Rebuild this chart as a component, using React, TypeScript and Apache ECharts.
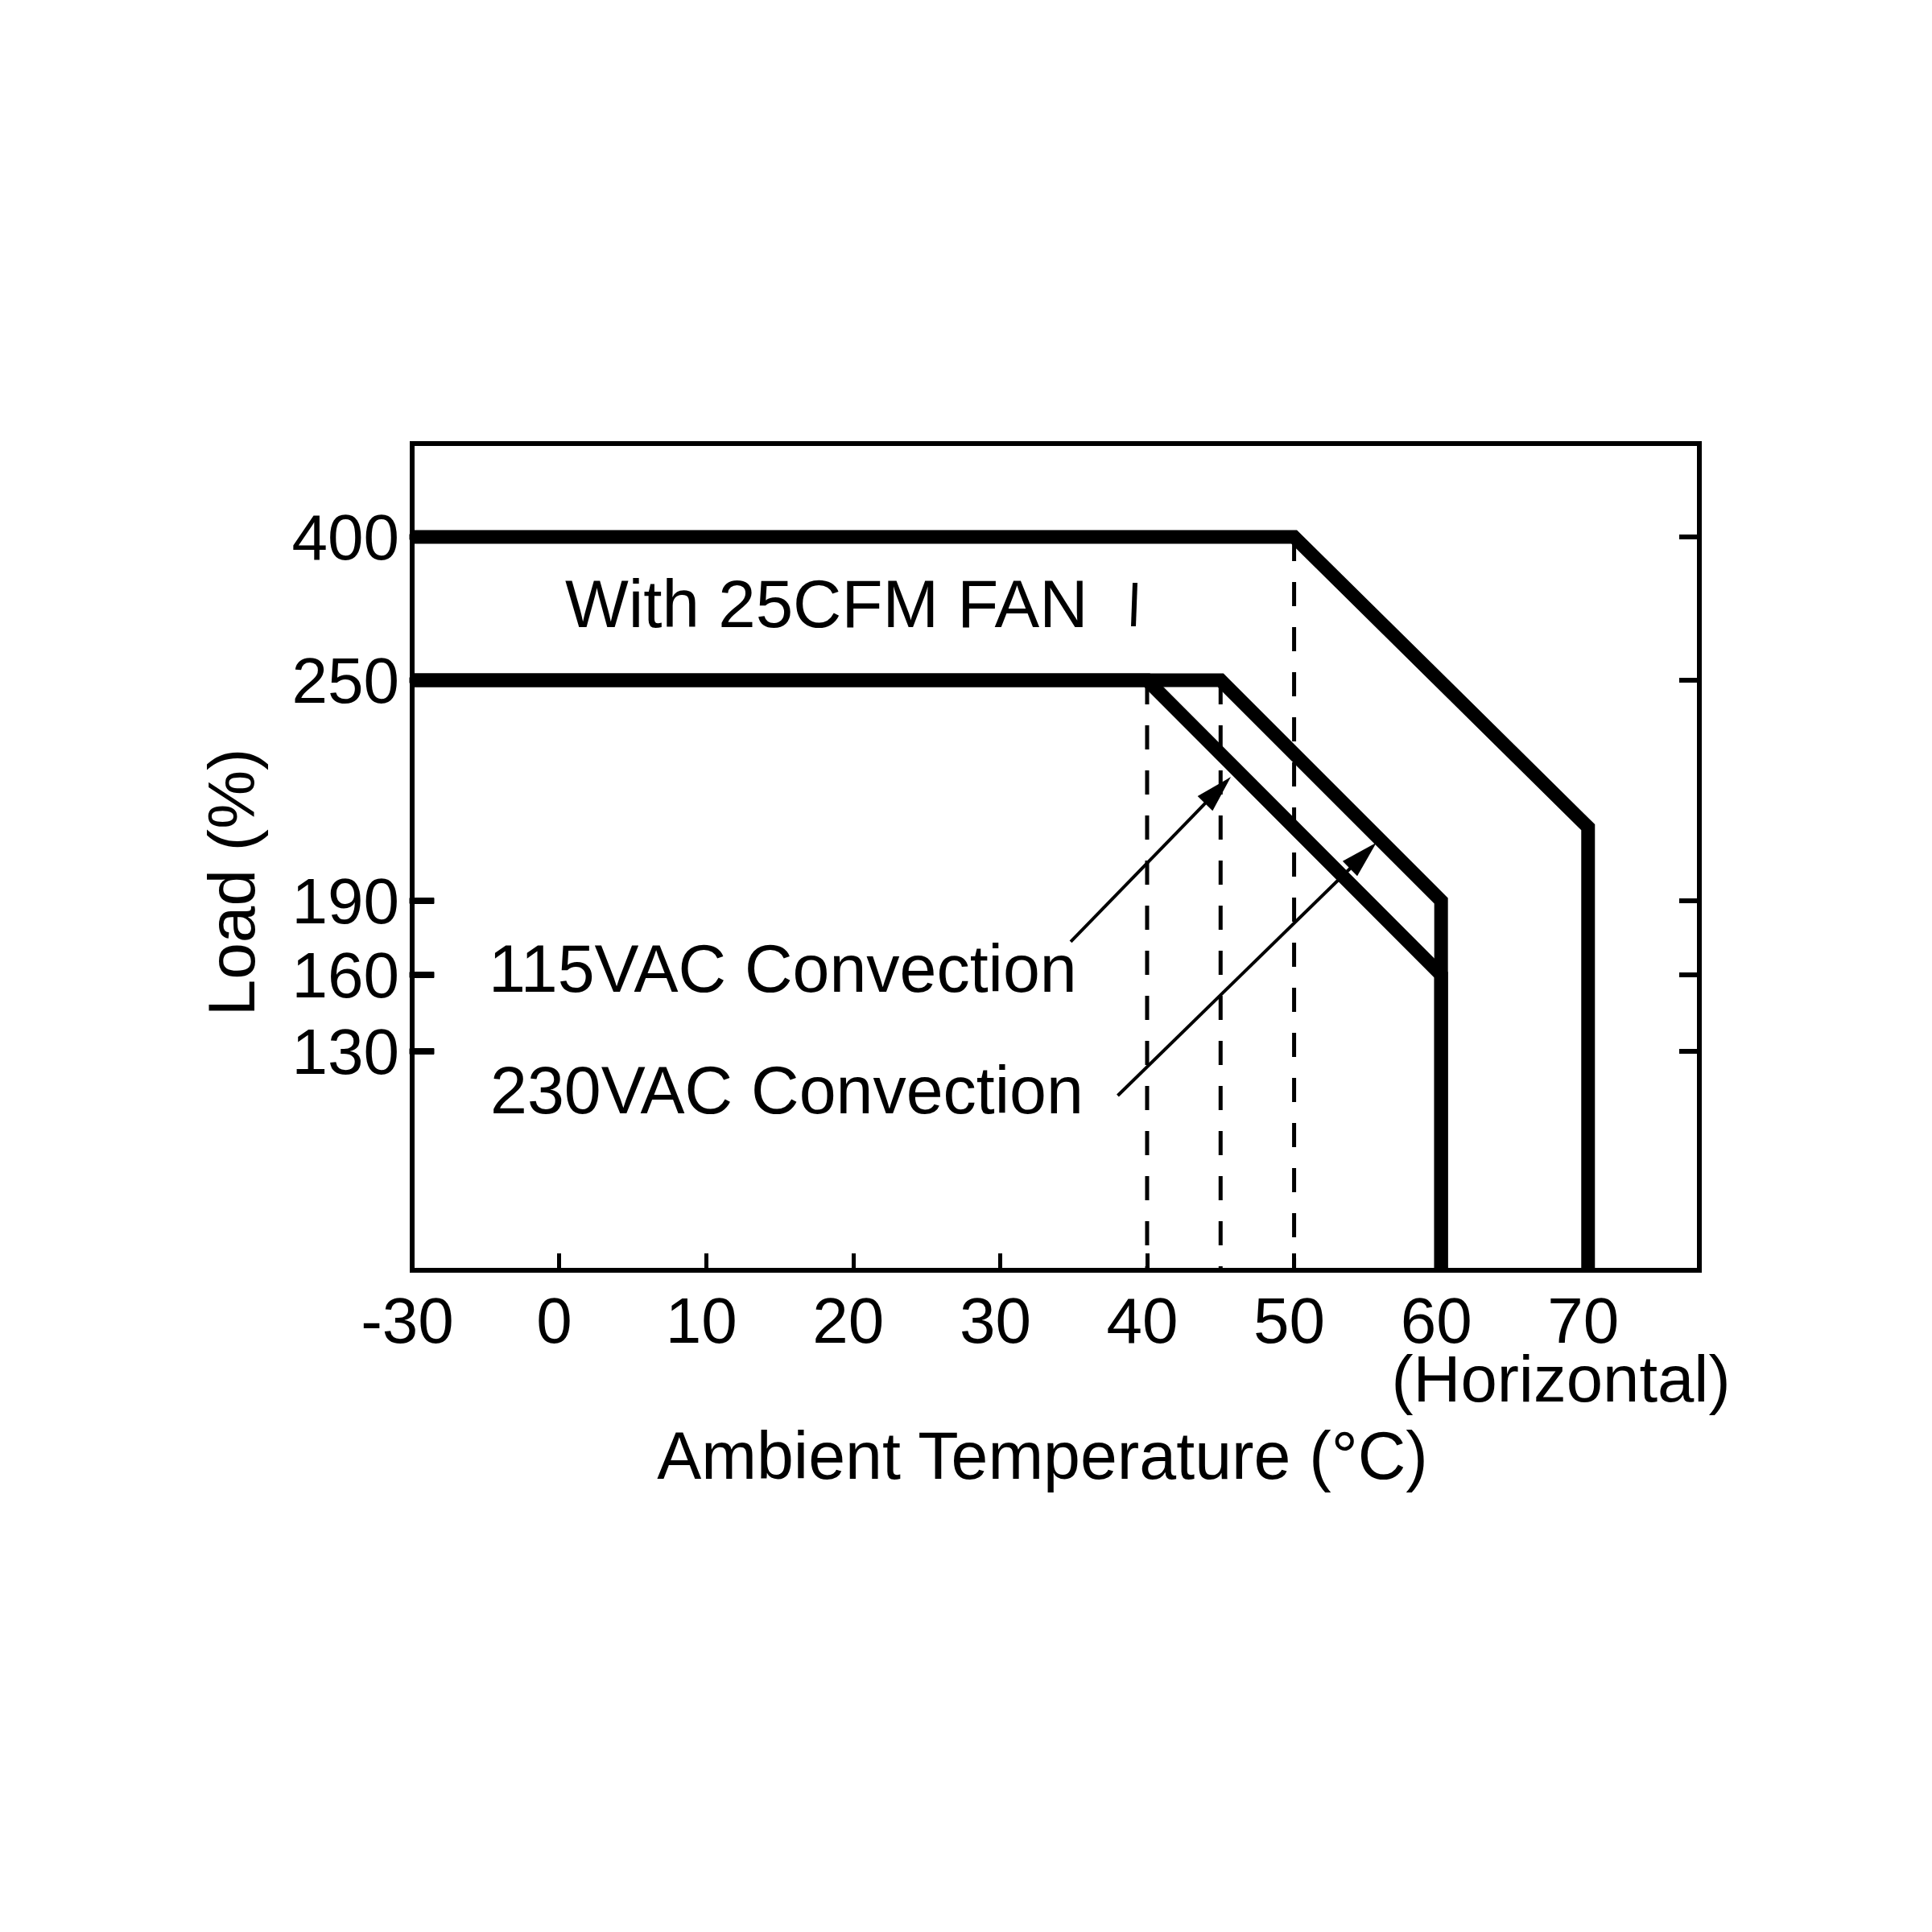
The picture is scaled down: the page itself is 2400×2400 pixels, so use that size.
import React, { useEffect, useRef } from 'react';
import * as echarts from 'echarts';

const FONT = '"Liberation Sans", Arial, Helvetica, sans-serif';

// ---- Data (temperature in °C, load in %) ----
const FAN_TEMPS = [-30, 50, 70, 70];
const FAN_LOADS = [400, 400, 210, 0];
const AC115_TEMPS = [-30, 40, 60, 60];
const AC115_LOADS = [250, 250, 160, 0];
const AC230_TEMPS = [-30, 45, 60, 60];
const AC230_LOADS = [250, 250, 190, 0];
const GUIDE_TEMPS = [40, 45, 50];
const GUIDE_TOP_LOADS = [250, 250, 400];

const X_TICKS = [0, 10, 20, 30, 40, 50, 60, 70];
const X_LABELS = [-30, 0, 10, 20, 30, 40, 50, 60, 70];
const Y_LABELS = [130, 160, 190, 250, 400];

// Non-linear (broken) load scale used by the original drawing
const Y_SCALE_LOADS = [0, 130, 160, 190, 250, 400];
const Y_SCALE_UNITS = [0, 272, 367, 459, 733, 911];
const Y_SCALE_MAX = 1027;
// Temperature scale: the -30..0 span is compressed to the width of 10 °C
const X_SCALE_MAX_TEMP = 77.57;

// Annotation arrows [temp, load]
const ARROW_115_FROM = [34.8, 173.4];
const ARROW_115_TO = [45.7, 223.7];
const ARROW_230_FROM = [38.0, 103.7];
const ARROW_230_TO = [55.6, 205.8];

function xDisp(t: number) {
  return t < 0 ? (t + 30) / 3 : t + 10;
}
function yPos(load: number) {
  const L = Y_SCALE_LOADS, U = Y_SCALE_UNITS;
  for (let i = 1; i < L.length; i++) {
    if (load <= L[i] || i === L.length - 1) {
      return U[i - 1] + ((load - L[i - 1]) / (L[i] - L[i - 1])) * (U[i] - U[i - 1]);
    }
  }
  return 0;
}
function pts(temps: number[], loads: number[]) {
  return temps.map((t, i) => [xDisp(t), yPos(loads[i])]);
}

export default function App() {
  const ref = useRef<HTMLDivElement>(null);
  useEffect(() => {
    if (!ref.current) return;
    const chart = echarts.init(ref.current, undefined, { renderer: 'svg' });
    const thick = { color: '#000', width: 17, join: 'miter', cap: 'butt', miterLimit: 10 };
    const series: any[] = [];
    GUIDE_TEMPS.forEach((t, i) => {
      series.push({
        type: 'line',
        data: pts([t, t], [GUIDE_TOP_LOADS[i], 0]),
        symbol: 'none',
        silent: true,
        z: 2,
        lineStyle: { color: '#000', width: 5, type: [30, 26] },
      });
    });
    [
      [FAN_TEMPS, FAN_LOADS],
      [AC230_TEMPS, AC230_LOADS],
      [AC115_TEMPS, AC115_LOADS],
    ].forEach(([t, l]) => {
      series.push({
        type: 'line',
        data: pts(t as number[], l as number[]),
        symbol: 'none',
        silent: true,
        z: 3,
        lineStyle: thick,
      });
    });

    const labelStyle = { fontSize: 80, color: '#000', fontFamily: FONT, lineHeight: 66 };
    const yTickVals = Y_LABELS.map(yPos);
    const option: any = {
      animation: false,
      backgroundColor: '#fff',
      grid: {
        left: 512,
        top: 551,
        width: 1599,
        height: 1027,
        show: true,
        borderColor: '#000',
        borderWidth: 6,
        backgroundColor: 'transparent',
      },
      xAxis: {
        type: 'value',
        min: xDisp(-30),
        max: xDisp(X_SCALE_MAX_TEMP),
        axisLine: { show: false },
        splitLine: { show: false },
        axisTick: {
          show: true,
          inside: true,
          length: 21,
          lineStyle: { color: '#000', width: 5 },
          customValues: X_TICKS.map(xDisp),
        },
        axisLabel: {
          ...labelStyle,
          margin: 29,
          padding: [0, 12, 0, 0],
          customValues: X_LABELS.map(xDisp),
          formatter: (v: number) => {
            const t = X_LABELS.find((x) => Math.abs(xDisp(x) - v) < 1e-6);
            return t === undefined ? '' : String(t);
          },
        },
      },
      yAxis: [
        {
          type: 'value',
          min: 0,
          max: Y_SCALE_MAX,
          position: 'left',
          axisLine: { show: true, lineStyle: { color: '#000', width: 6 } },
          splitLine: { show: false },
          axisTick: {
            show: true,
            inside: true,
            length: 25,
            lineStyle: { color: '#000', width: 6 },
            customValues: yTickVals,
          },
          axisLabel: {
            ...labelStyle,
            margin: 16,
            customValues: yTickVals,
            formatter: (v: number) => {
              const l = Y_LABELS.find((x) => Math.abs(yPos(x) - v) < 1e-6);
              return l === undefined ? '' : String(l);
            },
          },
        },
        {
          type: 'value',
          min: 0,
          max: Y_SCALE_MAX,
          position: 'right',
          axisLine: { show: false },
          splitLine: { show: false },
          axisTick: {
            show: true,
            inside: true,
            length: 25,
            lineStyle: { color: '#000', width: 6 },
            customValues: yTickVals,
          },
          axisLabel: { show: false },
        },
      ],
      series,
    };
    chart.setOption(option);

    const px = (p: number[]) =>
      chart.convertToPixel({ gridIndex: 0 }, [xDisp(p[0]), yPos(p[1])]) as unknown as number[];
    const arrow = (from: number[], to: number[]) => {
      const F = px(from);
      const T = px(to);
      const dx = T[0] - F[0], dy = T[1] - F[1];
      const len = Math.hypot(dx, dy);
      const ux = dx / len, uy = dy / len;
      const nx = -uy, ny = ux;
      const L = 46, W = 13;
      const B = [T[0] - ux * L, T[1] - uy * L];
      return [
        {
          type: 'line',
          shape: { x1: F[0], y1: F[1], x2: B[0] + ux * 4, y2: B[1] + uy * 4 },
          style: { stroke: '#000', lineWidth: 4 },
          z: 10,
        },
        {
          type: 'polygon',
          shape: { points: [T, [B[0] + nx * W, B[1] + ny * W], [B[0] - nx * W, B[1] - ny * W]] },
          style: { fill: '#000' },
          z: 10,
        },
      ];
    };
    // left frame ticks, placed through the y scale, crossing the frame edge
    const leftTicks = Y_LABELS.map((l) => {
      const a = px([-30, l]);
      return {
        type: 'polygon',
        shape: {
          points: [
            [a[0] - 3, a[1] - 3.5],
            [a[0] + 27, a[1] - 3.5],
            [a[0] + 27, a[1] + 3.5],
            [a[0] - 3, a[1] + 3.5],
          ],
        },
        style: { fill: '#000', stroke: '#000', lineWidth: 1 },
        z: 1000,
      };
    });
    const txt = (text: string, x: number, y: number, align: string, size = 82, rotation = 0) => ({
      type: 'text',
      x,
      y,
      rotation,
      z: 10,
      style: {
        text,
        fill: '#000',
        fontSize: size,
        fontFamily: FONT,
        lineHeight: 66,
        align,
        verticalAlign: 'middle',
        textAlign: align,
        textVerticalAlign: 'middle',
      },
    });
    chart.setOption({
      graphic: {
        elements: [
          ...arrow(ARROW_115_FROM, ARROW_115_TO),
          ...arrow(ARROW_230_FROM, ARROW_230_TO),
          txt('With 25CFM FAN', 702, 750, 'left', 83.5),
          {
            type: 'line',
            shape: { x1: 1410, y1: 724, x2: 1408, y2: 778 },
            style: { stroke: '#000', lineWidth: 6 },
            z: 10,
          },
          txt('115VAC Convection', 607, 1203, 'left', 82.5),
          txt('230VAC Convection', 609, 1354, 'left', 82.5),
          txt('(Horizontal)', 1939, 1712, 'center', 81.5),
          txt('Ambient Temperature (°C)', 1295, 1808, 'center', 82.5),
          txt('Load (%)', 287, 1096, 'center', 82, Math.PI / 2),
          ...leftTicks,
        ],
      },
    });
    return () => chart.dispose();
  }, []);
  return (
    <div
      ref={ref}
      style={{ position: 'fixed', left: 0, top: 0, width: 2400, height: 2400, background: '#fff' }}
    />
  );
}
